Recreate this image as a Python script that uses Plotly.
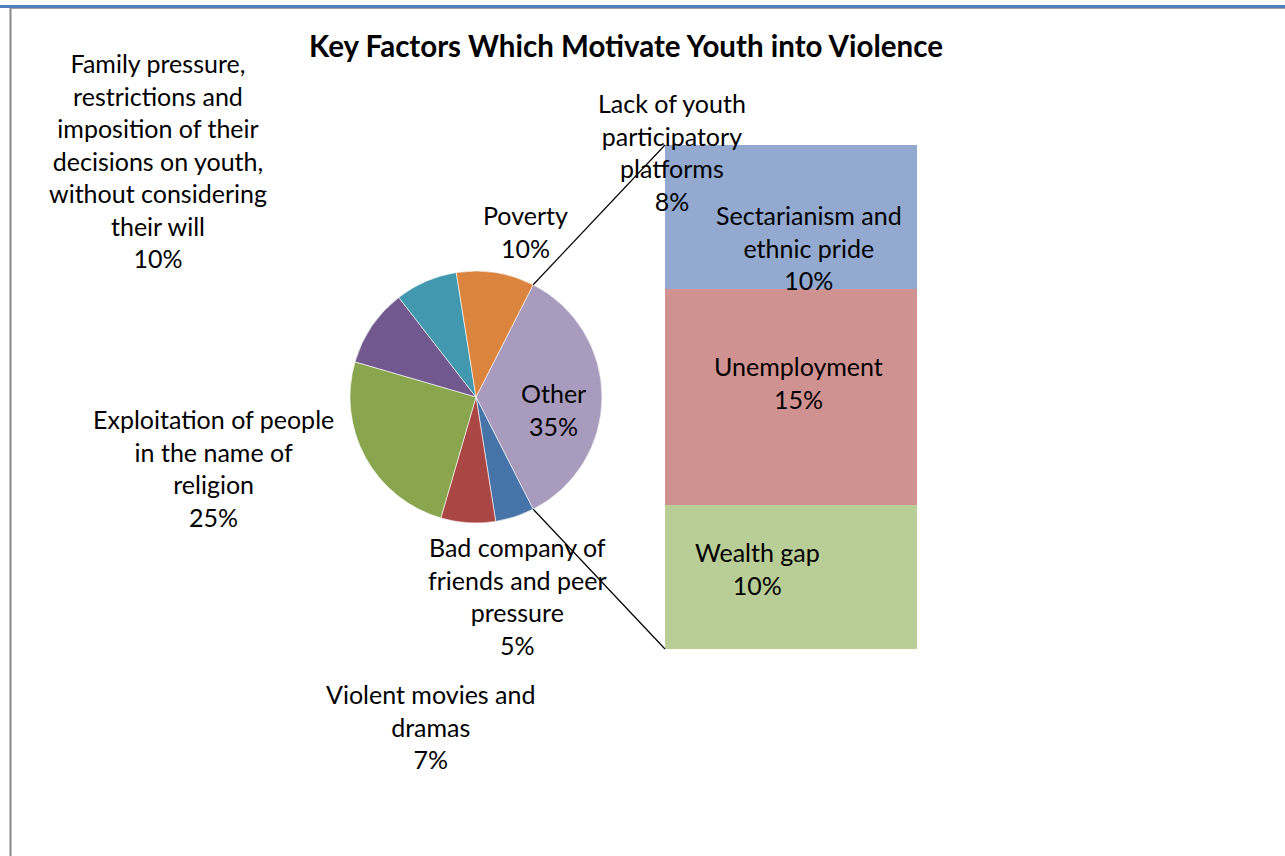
import plotly.graph_objects as go
import math

W, H = 1285, 856

# ---- data ----
pie_labels = ["Other", "Bad company of friends and peer pressure", "Violent movies and dramas",
              "Exploitation of people in the name of religion",
              "Family pressure, restrictions and imposition of their decisions on youth, without considering their will",
              "Lack of youth participatory platforms", "Poverty"]
pie_values = [35, 5, 7, 25, 10, 8, 10]
pie_colors = ["#A99BBD", "#4673A8", "#AA4643", "#89A54E", "#71588F", "#4198AF", "#DB843D"]

bar_labels = ["Wealth gap", "Unemployment", "Sectarianism and ethnic pride"]
bar_values = [10, 15, 10]
bar_colors = ["#B9CD96", "#D09291", "#93A9CF"]

pie_text = {
    "Other": "Other<br>35%",
    "Bad company of friends and peer pressure": "Bad company of<br>friends and peer<br>pressure<br>5%",
    "Violent movies and dramas": "Violent movies and<br>dramas<br>7%",
    "Exploitation of people in the name of religion": "Exploitation of people<br>in the name of<br>religion<br>25%",
    "Family pressure, restrictions and imposition of their decisions on youth, without considering their will":
        "Family pressure,<br>restrictions and<br>imposition of their<br>decisions on youth,<br>without considering<br>their will<br>10%",
    "Lack of youth participatory platforms": "Lack of youth<br>participatory<br>platforms<br>8%",
    "Poverty": "Poverty<br>10%",
}
bar_text = {
    "Wealth gap": "Wealth gap<br>10%",
    "Unemployment": "Unemployment<br>15%",
    "Sectarianism and ethnic pride": "Sectarianism and<br>ethnic pride<br>10%",
}

# label placement (pixel centres)
pie_label_pos = {
    "Other": (553, 409),
    "Bad company of friends and peer pressure": (517, 596),
    "Violent movies and dramas": (431, 726),
    "Exploitation of people in the name of religion": (213, 468),
    "Family pressure, restrictions and imposition of their decisions on youth, without considering their will": (158, 160),
    "Lack of youth participatory platforms": (672, 152),
    "Poverty": (525, 232),
}
bar_label_pos = {
    "Wealth gap": (757, 568),
    "Unemployment": (798, 382),
    "Sectarianism and ethnic pride": (809, 248),
}

FONT = "Lato, Carlito, Calibri, sans-serif"
FS = 25

def px(x):
    return x / W

def py(y):
    return 1 - y / H

# geometry
cx, cy, r = 476, 397, 126
bar_x0, bar_x1, bar_y0, bar_y1 = 665, 917, 145, 649

total = sum(pie_values)
other_deg = pie_values[0] / total * 360
rotation = 90 - other_deg / 2

fig = go.Figure()
fig.add_trace(go.Pie(
    labels=pie_labels, values=pie_values, sort=False, direction="clockwise",
    rotation=rotation, marker=dict(colors=pie_colors, line=dict(color="white", width=0.6)),
    textinfo="none", hoverinfo="label+percent", showlegend=False,
    domain=dict(x=[px(cx - r), px(cx + r)], y=[py(cy + r), py(cy - r)]),
))

for lab, val, col in zip(bar_labels, bar_values, bar_colors):
    fig.add_trace(go.Bar(x=["Other"], y=[val], name=lab, marker=dict(color=col, line=dict(width=0)),
                         showlegend=False, hoverinfo="name+y"))

fig.update_layout(
    width=W, height=H, margin=dict(l=0, r=0, t=0, b=0),
    paper_bgcolor="white", plot_bgcolor="white", barmode="stack", bargap=0,
    xaxis=dict(domain=[px(bar_x0), px(bar_x1)], visible=False, fixedrange=True),
    yaxis=dict(domain=[py(bar_y1), py(bar_y0)], range=[0, sum(bar_values)], visible=False, fixedrange=True),
    font=dict(family=FONT, size=FS, color="black"),
)

# connector lines, derived from the Other slice's angles
a1 = math.radians(rotation)
a2 = math.radians(rotation + other_deg)
for a, by in ((a1, bar_y0), (a2, bar_y1)):
    x0 = cx + r * math.sin(a)
    y0 = cy - r * math.cos(a)
    fig.add_shape(type="line", xref="paper", yref="paper", x0=px(x0), y0=py(y0), x1=px(bar_x0), y1=py(by),
                  line=dict(color="black", width=1.2))

# frame lines
fig.add_shape(type="line", xref="paper", yref="paper", x0=0, x1=1, y0=py(6.5), y1=py(6.5),
              line=dict(color="#4F81BD", width=3))
fig.add_shape(type="line", xref="paper", yref="paper", x0=px(10), x1=1, y0=py(8.5), y1=py(8.5),
              line=dict(color="#A0A0A0", width=1))
fig.add_shape(type="line", xref="paper", yref="paper", x0=px(10.5), x1=px(10.5), y0=py(8), y1=0,
              line=dict(color="#888888", width=2))

for lab in pie_labels:
    x, y = pie_label_pos[lab]
    fig.add_annotation(x=px(x), y=py(y), xref="paper", yref="paper", text=pie_text[lab], showarrow=False,
                       xanchor="center", yanchor="middle", align="center", font=dict(family=FONT, size=FS))
for lab in bar_labels:
    x, y = bar_label_pos[lab]
    fig.add_annotation(x=px(x), y=py(y), xref="paper", yref="paper", text=bar_text[lab], showarrow=False,
                       xanchor="center", yanchor="middle", align="center", font=dict(family=FONT, size=FS))

fig.add_annotation(x=px(626), y=py(45), xref="paper", yref="paper",
                   text="<b>Key Factors Which Motivate Youth into Violence</b>", showarrow=False,
                   xanchor="center", yanchor="middle", font=dict(family=FONT, size=29.5))

fig.write_html("out.html", config={"displayModeBar": False},
               post_script="document.body.style.margin='0';")
